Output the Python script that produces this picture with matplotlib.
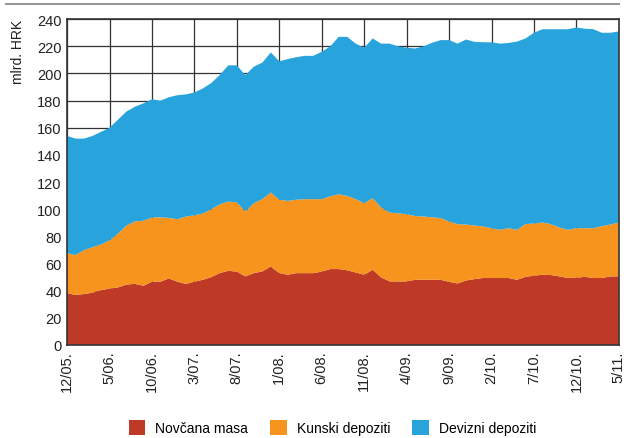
import numpy as np
import matplotlib
matplotlib.use('Agg')
import matplotlib.pyplot as plt
from matplotlib.patches import Patch

plt.rcParams['font.family'] = ['Liberation Sans Narrow', 'Liberation Sans', 'DejaVu Sans']

# monthly values, 12/2005 - 5/2011, mlrd. HRK
novcana_masa = [38.2, 36.8, 37.5, 38.5, 40.4, 41.5, 42.4, 44.5, 45.0, 43.6,
                46.6, 46.6, 49.0, 46.6, 44.9, 46.6, 48.0, 50.0, 53.0, 54.6,
                54.0, 50.5, 52.9, 54.2, 57.8, 52.9, 51.7, 52.9, 52.9, 52.9,
                54.0, 55.9, 55.9, 55.0, 53.4, 51.7, 55.4, 49.8, 46.8, 46.8,
                46.8, 48.0, 48.0, 48.0, 48.0, 46.5, 45.3, 47.5, 48.5, 49.3,
                49.3, 49.3, 49.3, 48.0, 50.2, 51.0, 51.7, 51.5, 50.5, 49.3,
                49.5, 50.2, 49.3, 49.3, 50.5, 50.5]
kunski_depoziti = [29.4, 29.4, 32.4, 33.5, 33.6, 35.5, 39.6, 43.5, 46.0, 47.9,
                   47.3, 47.4, 44.6, 46.0, 49.7, 48.9, 48.8, 50.0, 50.7, 51.0,
                   51.0, 47.8, 51.5, 53.2, 54.5, 54.1, 54.4, 54.1, 54.5, 54.5,
                   53.4, 53.6, 55.1, 54.8, 54.0, 52.7, 52.7, 51.4, 50.7, 50.2,
                   49.5, 47.0, 46.6, 46.0, 45.5, 44.5, 43.7, 41.2, 39.5, 38.0,
                   36.7, 35.5, 36.7, 36.8, 38.8, 38.5, 38.5, 37.5, 36.0, 35.5,
                   36.5, 35.8, 36.7, 38.2, 38.2, 39.7]
devizni_depoziti = [86.4, 85.8, 82.1, 82.0, 83.0, 83.0, 84.0, 84.0, 84.5, 86.5,
                    87.1, 86.0, 88.9, 91.4, 90.0, 90.5, 92.2, 93.0, 95.3, 100.4,
                    101.0, 100.5, 100.6, 100.6, 103.2, 102.0, 104.5, 105.0, 105.6, 105.6,
                    108.6, 110.5, 116.0, 117.2, 114.6, 114.6, 117.7, 120.8, 124.5, 123.0,
                    122.7, 123.4, 125.4, 128.6, 131.1, 133.6, 133.0, 136.3, 135.3, 135.7,
                    137.0, 137.2, 136.5, 138.7, 136.8, 140.5, 142.4, 143.6, 146.1, 147.8,
                    147.9, 147.0, 146.6, 142.5, 141.3, 140.8]
tick_labels = ['12/05.', '5/06.', '10/06.', '3/07.', '8/07.', '1/08.', '6/08.',
               '11/08.', '4/09.', '9/09.', '2/10.', '7/10.', '12/10.', '5/11.']
series_names = ['Novčana masa', 'Kunski depoziti', 'Devizni depoziti']
colors = ['#bf3a26', '#f7941e', '#29a3dc']

x = np.arange(len(novcana_masa))

fig = plt.figure(figsize=(6.27, 4.39), dpi=100)
ax = fig.add_axes([0.107, 0.212, 0.88, 0.742])

ax.stackplot(x, novcana_masa, kunski_depoziti, devizni_depoziti,
             colors=colors, linewidth=0)
ax.set_axisbelow(True)
ax.grid(True, color='#333333', linewidth=0.9)

ax.set_xlim(0, len(x) - 1)
ax.set_ylim(0, 240)
ax.set_yticks(range(0, 241, 20))
ax.set_xticks(range(0, len(x), 5))
ax.set_xticklabels(tick_labels, rotation=90, fontsize=10.5, color='#222222')
ax.tick_params(axis='y', labelsize=10.5, labelcolor='#222222')
ax.tick_params(length=0, pad=4)
for s in ax.spines.values():
    s.set_color('#333333')
    s.set_linewidth(1.2)

fig.text(0.018, 0.955, 'mlrd. HRK', rotation=90, ha='left', va='top',
         fontsize=10, color='#222222')

# grey rule at the top
fig.add_artist(plt.Line2D([0.009, 0.988], [0.989, 0.989], color='#8a8a8a',
                          linewidth=1.3, transform=fig.transFigure))

handles = [Patch(facecolor=c, edgecolor='none') for c in colors]
fig.legend(handles, series_names, loc='lower center', bbox_to_anchor=(0.53, -0.022),
           ncol=3, frameon=False, fontsize=10, handlelength=1.2, handleheight=1.2,
           columnspacing=1.6, handletextpad=0.7)

fig.savefig('out.png', dpi=100)
